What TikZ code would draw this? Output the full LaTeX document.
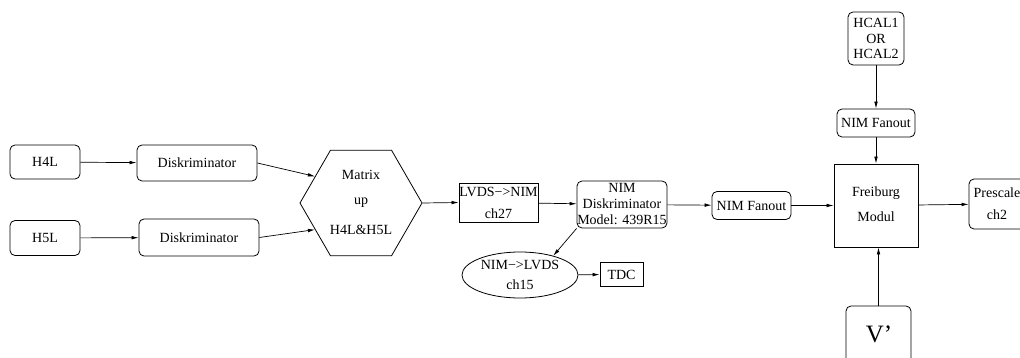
\documentclass[tikz,border=0pt]{standalone}
\usepackage{fontspec}
\setmainfont{Liberation Serif}
\usetikzlibrary{shapes.geometric,arrows.meta,calc}
\begin{document}
\begin{tikzpicture}[x=1pt,y=-1pt,
  every node/.style={font=\fontsize{14}{16}\selectfont, inner sep=0pt},
  rbox/.style={draw, line width=0.8pt, rounded corners=5pt},
  sbox/.style={draw, line width=0.8pt},
  lbl/.style={},
  conn/.style={line width=0.7pt, -{Latex[length=7pt,width=3.6pt]}}
]
\clip (0,0) rectangle (1020,358);
\useasboundingbox (0,0) rectangle (1020,358);

\node[rbox, minimum width=70pt, minimum height=34pt] (h4l) at (45,162) {H4L};
\node[rbox, minimum width=120pt, minimum height=36pt] (d1) at (197,163) {Diskriminator};
\node[rbox, minimum width=70pt, minimum height=35pt] (h5l) at (45,238) {H5L};
\node[rbox, minimum width=120pt, minimum height=37pt] (d2) at (199,237.5) {Diskriminator};

\node[draw, line width=0.8pt, regular polygon, regular polygon sides=6, minimum size=122pt] (hex) at (361,203) {};
\node[lbl] (hx1) at (361,175) {Matrix};
\node[lbl] (hx2) at (361,203) {up};
\node[lbl] (hx3) at (361,230) {H4L\&H5L};

\node[sbox, minimum width=79pt, minimum height=39pt] (lvds) at (498.5,202.5) {};
\node[lbl] (lv1) at (498.5,192) {LVDS−>NIM};
\node[lbl] (lv2) at (498.5,214) {ch27};

\node[rbox, minimum width=90pt, minimum height=47pt, align=center] (nd) at (622,204.5)
  {NIM\\Diskriminator\\Model: 439R15};

\node[draw, line width=0.8pt, ellipse, minimum width=116pt, minimum height=46pt] (el) at (520,275) {};
\node[lbl] (el1) at (520,265) {NIM−>LVDS};
\node[lbl] (el2) at (520,285) {ch15};

\node[sbox, minimum width=43pt, minimum height=24pt] (tdc) at (621.5,274.5) {TDC};

\node[rbox, minimum width=79pt, minimum height=28pt] (f1) at (751.5,205.5) {NIM Fanout};

\node[sbox, minimum width=84pt, minimum height=83pt] (fr) at (876,205.5) {};
\node[lbl] (fr1) at (876,193) {Freiburg};
\node[lbl] (fr2) at (876,217) {Modul};

\node[rbox, minimum width=56pt, minimum height=50pt] (pre) at (997,204) {};
\node[lbl] (pr1) at (997,193) {Prescale};
\node[lbl] (pr2) at (997,215) {ch2};

\node[rbox, minimum width=56pt, minimum height=53pt, align=center,
  font=\fontsize{14}{15.5}\selectfont] (hcal) at (876,38.5) {HCAL1\\OR\\HCAL2};

\node[rbox, minimum width=78pt, minimum height=28pt] (f2) at (876,123) {NIM Fanout};

\node[rbox, minimum width=65pt, minimum height=68pt] (vp) at (878.5,340) {};
\node[lbl, font=\fontsize{25}{28}\selectfont] (vpt) at (879,334) {V’};

\draw[conn] (h4l) -- (d1);
\draw[conn] (h5l) -- (d2);
\draw[conn] (d1.east) -- (hex.150);
\draw[conn] (d2.east) -- (hex.-150);
\draw[conn] (hex.east) -- (lvds.west);
\draw[conn] (lvds) -- (nd);
\draw[conn] (nd.south west) -- (el.30);
\draw[conn] (el) -- (tdc);
\draw[conn] (nd) -- (f1);
\draw[conn] (f1) -- (fr);
\draw[conn] (fr) -- (pre);
\draw[conn] (hcal) -- (f2);
\draw[conn] (f2) -- (fr);
\draw[conn] (vp.north) -- (vp.north |- fr.south);
\end{tikzpicture}
\end{document}
